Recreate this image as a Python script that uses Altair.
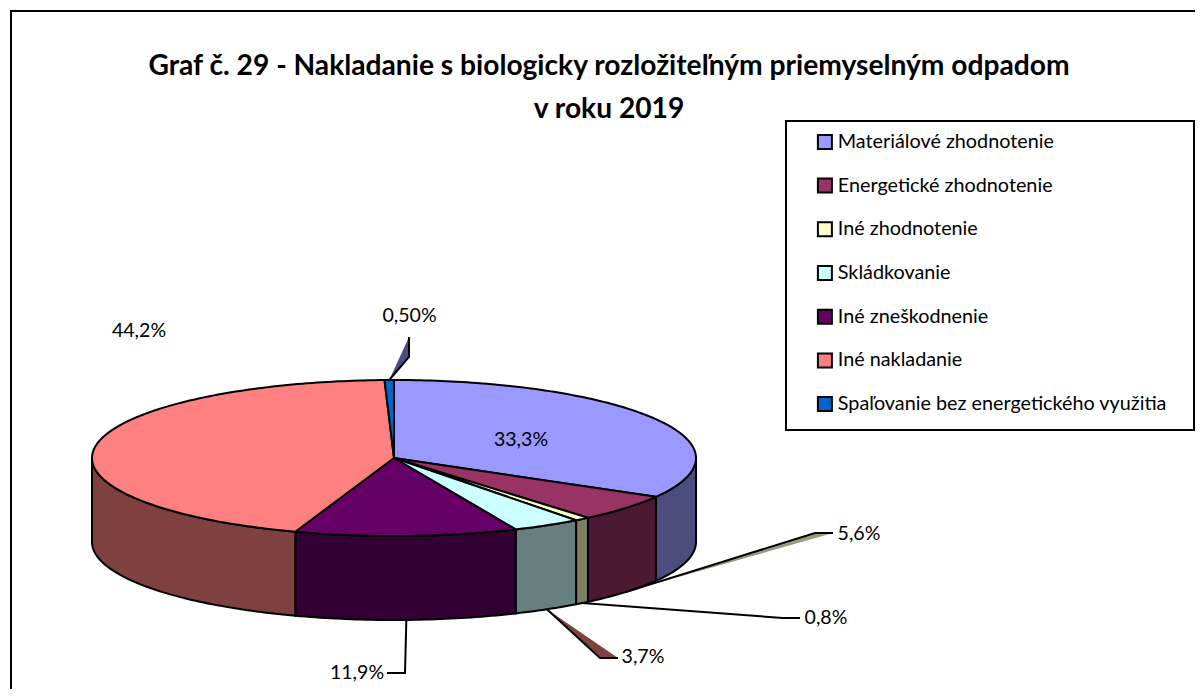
import math
import altair as alt

# ---- data ----
names = ["Materiálové zhodnotenie", "Energetické zhodnotenie", "Iné zhodnotenie", "Skládkovanie",
         "Iné zneškodnenie", "Iné nakladanie", "Spaľovanie bez energetického využitia"]
shares = [33.3, 5.6, 0.8, 3.7, 11.9, 44.2, 0.5]
labels = ["33,3%", "5,6%", "0,8%", "3,7%", "11,9%", "44,2%", "0,50%"]
top_colors = ["#9999FF", "#993366", "#FFFFCC", "#CCFFFF", "#660066", "#FF8080", "#0066CC"]
side_colors = ["#4C4C7F", "#4C1933", "#7F7F66", "#667F7F", "#330033", "#7F4040", "#003366"]
title_lines = ["Graf č. 29 - Nakladanie s biologicky rozložiteľným priemyselným odpadom", "v roku 2019"]

# ---- layout (page pixels) ----
W, H = 1187, 681
CX, CY, RX, RY, DEPTH = 394, 458, 302, 78, 84
FONT = "Lato"
label_pos = [(521, 440), (859, 534), (826, 618), (643, 657), (357, 673), (139, 331), (409.5, 316)]
elbows = [None, [(815, 533), (833, 533)], [(783, 618), (800, 618)], [(600, 658), (618, 658)],
          [(405, 673), (387, 673)], None, [(409, 357), (409, 337)]]
wedge_fill = [None, "#9A9A82", None, "#7F4040", None, None, "#4C4C7F"]
frame = (11, 11, 1260, 760)
legend_box = (786, 121, 1194, 430)


def pt(deg, drop=0):
    a = math.radians(deg)
    return [CX + RX * math.sin(a), CY - RY * math.cos(a) + drop]


def arc(a0, a1, drop=0):
    n = max(2, int(abs(a1 - a0)) + 2)
    return [pt(a0 + (a1 - a0) * i / (n - 1), drop) for i in range(n)]


def feature(kind, coords, **props):
    return {"type": "Feature", "geometry": {"type": kind, "coordinates": coords}, "properties": props}


def rect(x0, y0, x1, y1):
    return [[[x0, y0], [x1, y0], [x1, y1], [x0, y1], [x0, y0]]]


total = sum(shares)
tops, walls, wedges, leaders = [], [], [], []
start = 0.0
for i, s in enumerate(shares):
    end = start + s / total * 360
    mid = (start + end) / 2
    poly = [[CX, CY]] + arc(start, end) + [[CX, CY]]
    tops.append(feature("Polygon", [poly], name=names[i]))
    lo, hi = max(start, 90), min(end, 270)
    if lo < hi:
        ring = arc(lo, hi) + arc(hi, lo, DEPTH)
        walls.append(feature("Polygon", [ring + [ring[0]]], fill=side_colors[i]))
    if elbows[i]:
        visible_front = 90 < mid < 270
        anchor = pt(mid, DEPTH if visible_front else 0)
        leaders.append(feature("LineString", [anchor] + [list(p) for p in elbows[i]]))
        if wedge_fill[i]:
            e, t = elbows[i]
            wedges.append(feature("Polygon", [[anchor, list(t), list(e), anchor]], fill=wedge_fill[i]))
    start = end

proj = dict(type="identity", scale=1, translate=[-8, -8])
LW = 2

frame_layer = alt.Chart(alt.Data(values=[feature("Polygon", rect(*frame)), feature("Polygon", rect(*legend_box))])).mark_geoshape(
    filled=False, stroke="black", strokeWidth=2).project(**proj)

wedge_layer = alt.Chart(alt.Data(values=wedges)).mark_geoshape(strokeWidth=0).encode(
    fill=alt.Fill("properties.fill:N", scale=None, legend=None)).project(**proj)

leader_layer = alt.Chart(alt.Data(values=leaders)).mark_geoshape(
    filled=False, stroke="black", strokeWidth=LW).project(**proj)

wall_layer = alt.Chart(alt.Data(values=walls)).mark_geoshape(stroke="black", strokeWidth=LW, strokeJoin="round").encode(
    fill=alt.Fill("properties.fill:N", scale=None, legend=None)).project(**proj)

top_layer = alt.Chart(alt.Data(values=tops)).mark_geoshape(stroke="black", strokeWidth=LW, strokeJoin="round").encode(
    color=alt.Color("properties.name:N",
                    scale=alt.Scale(domain=names, range=top_colors),
                    legend=alt.Legend(title=None, orient="none", legendX=807, legendY=124, padding=0,
                                      symbolType="square", symbolSize=196, symbolStrokeColor="black",
                                      symbolStrokeWidth=2, symbolOpacity=1,
                                      labelFont=FONT, labelFontSize=19.8, labelColor="black", labelOffset=3,
                                      rowPadding=20.7, labelLimit=400, zindex=1))
).project(**proj)

label_rows = [{"lon": p[0], "lat": p[1], "t": t} for p, t in zip(label_pos, labels)]
text_layer = alt.Chart(alt.Data(values=label_rows)).mark_text(
    font=FONT, fontSize=19.6, color="black", align="center", baseline="middle").encode(
    longitude="lon:Q", latitude="lat:Q", text="t:N").project(**proj)

chart = alt.layer(frame_layer, wedge_layer, leader_layer, wall_layer, top_layer, text_layer).properties(
    width=W, height=H, padding=0, autosize=alt.AutoSizeParams(type="none"),
    title=alt.TitleParams(text=title_lines, font=FONT, fontSize=28.2, fontWeight="bold", color="black",
                          anchor="middle", frame="group", align="center", baseline="top",
                          lineHeight=43.5, dx=7.5, dy=116.5, offset=0)
).configure_view(stroke=None)

chart.save("out.html", embed_options={"renderer": "svg", "actions": False})
